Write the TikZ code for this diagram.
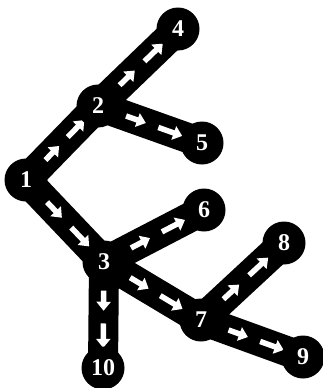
\documentclass[tikz,border=0pt]{standalone}
\usepackage{fontspec}
\setmainfont{Liberation Serif}
\usetikzlibrary{calc, arrows.meta, backgrounds}

\begin{document}
\begin{tikzpicture}[x=1pt, y=-1pt,
  vert/.style={circle, fill=black, minimum size=43pt, inner sep=0pt,
    text=white, font=\fontsize{24}{24}\selectfont\bfseries},
  edge/.style={line width=30pt, black},
  flow/.style={line width=5.5pt, white, -{Triangle[width=14pt, length=9pt]}}]
  \useasboundingbox (0,0) rectangle (323,388);
  % Vertices
  \foreach \i/\x/\y in {1/26/180, 2/98/106, 3/104/262, 4/178/29, 5/202/143,
                        6/204/210, 7/201/320, 8/284/243, 9/303/357, 10/103/368} {
    \node[vert] (n\i) at (\x,\y) {\i};
  }
  % Edges with flow arrows
  \begin{scope}[on background layer]
    \foreach \a/\b in {1/2, 2/4, 2/5, 1/3, 3/6, 3/7, 3/10, 7/8, 7/9} {
      \draw[edge] (n\a.center) -- (n\b.center);
      \draw[flow] ($(n\a.center)!0.27!(n\b.center)$) -- ($(n\a.center)!0.46!(n\b.center)$);
      \draw[flow] ($(n\a.center)!0.58!(n\b.center)$) -- ($(n\a.center)!0.81!(n\b.center)$);
    }
  \end{scope}
\end{tikzpicture}
\end{document}
